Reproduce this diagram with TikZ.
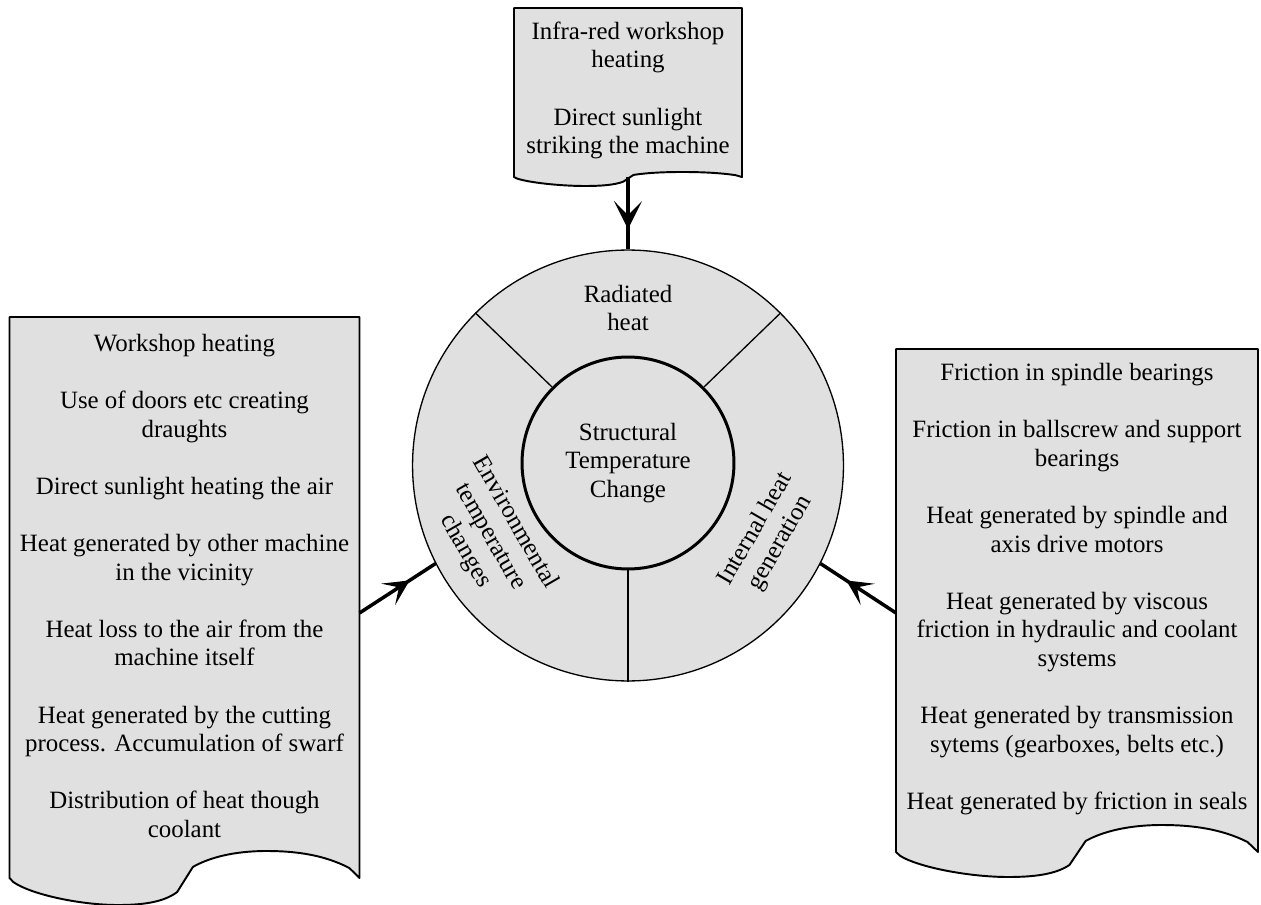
\documentclass[tikz,border=0pt]{standalone}
\usepackage{fontspec}
\setmainfont{Liberation Serif}
\usetikzlibrary{arrows.meta,decorations.markings}
\definecolor{docgray}{RGB}{224,224,224}
\tikzset{
  docbox/.style={fill=docgray, draw=black, line width=1.1pt, line join=round},
  txt/.style={align=center, inner sep=0pt, font=\fontsize{14.17pt}{16.27pt}\selectfont},
  ring/.style={circle, draw=black, fill=docgray, inner sep=0pt},
  divider/.style={line width=0.75pt},
  flow/.style 2 args={line width=2pt, postaction={decorate},
    decoration={markings, mark=at position #1 with {\arrow{Stealth[length=#2,width=#2,inset=0.5*#2]}}}},
}
% #1 left, #2 top, #3 right, #4 bottom of sides, #5 dip, #6 hump
\newcommand\docpath[6]{%
  \filldraw[docbox] (#1,#2) -- (#3,#2) -- (#3,#4)
   -- ({#1+0.971*(#3-#1)},{#4-0.37*#6})
   .. controls ({#1+0.90*(#3-#1)},{#4-0.85*#6}) and ({#1+0.82*(#3-#1)},{#4-#6}) .. ({#1+0.735*(#3-#1)},{#4-#6})
   .. controls ({#1+0.64*(#3-#1)},{#4-#6}) and ({#1+0.57*(#3-#1)},{#4-0.75*#6}) .. ({#1+0.524*(#3-#1)},{#4-0.41*#6})
   -- ({#1+0.479*(#3-#1)},{#4+0.52*#5})
   .. controls ({#1+0.44*(#3-#1)},{#4+0.9*#5}) and ({#1+0.38*(#3-#1)},{#4+#5}) .. ({#1+0.31*(#3-#1)},{#4+#5})
   .. controls ({#1+0.2*(#3-#1)},{#4+#5}) and ({#1+0.06*(#3-#1)},{#4+0.6*#5}) .. ({#1+0.011*(#3-#1)},{#4+0.15*#5})
   -- (#1,#4) -- cycle;}
\begin{document}
\begin{tikzpicture}[x=0.02cm, y=-0.02cm]
\useasboundingbox (0,0) rectangle (1261,905);

% document shapes
\docpath{514}{8}{742}{177}{9}{5}
\docpath{9.5}{317}{359.5}{878}{27}{27}
\docpath{896}{349}{1258}{852}{25}{27}

% central rings
\node[ring, line width=0.75pt, minimum size=8.62cm] (outer) at (628,465.5) {};
\node[ring, txt, line width=1.7pt, minimum size=4.24cm] (inner) at (628,463) {Structural\\Temperature\\Change};
\draw[divider] (inner.45) -- (outer.45);
\draw[divider] (inner.135) -- (outer.135);
\draw[divider] (inner.270) -- (outer.270);

\node[txt] (rad) at (628,308) {Radiated\\heat};
\node[txt, rotate=-60] (env) at (490,537) {Environmental\\temperature\\changes};
\node[txt, rotate=60] (int) at (768,536) {Internal heat\\generation};

% document texts
\node[txt] (toptxt) at (628,90.5) {Infra-red workshop\\heating\\[16.27pt]Direct sunlight\\striking the machine};
\node[txt] (lefttxt) at (184.5,586) {Workshop heating\\[16.27pt]
Use of doors etc creating\\draughts\\[16.27pt]
Direct sunlight heating the air\\[16.27pt]
Heat generated by other machine\\in the vicinity\\[16.27pt]
Heat loss to the air from the\\machine itself\\[16.27pt]
Heat generated by the cutting\\process. Accumulation of swarf\\[16.27pt]
Distribution of heat though\\coolant};
\node[txt] (righttxt) at (1077,589) {Friction in spindle bearings\\[16.27pt]
Friction in ballscrew and support\\bearings\\[16.27pt]
Heat generated by spindle and\\axis drive motors\\[16.27pt]
Heat generated by viscous\\friction in hydraulic and coolant\\systems\\[16.27pt]
Heat generated by transmission\\sytems (gearboxes, belts etc.)\\[16.27pt]
Heat generated by friction in seals};

% connectors
\coordinate (topb) at (628,177);
\coordinate (leftb) at (359.5,613);
\coordinate (rightb) at (896,613);
\draw[flow={0.72}{16pt}] (topb) -- (outer.north);
\draw[flow={0.66}{14.5pt}] (leftb) -- (outer.207);
\draw[flow={0.66}{14.5pt}] (rightb) -- (outer.333);
\end{tikzpicture}
\end{document}
